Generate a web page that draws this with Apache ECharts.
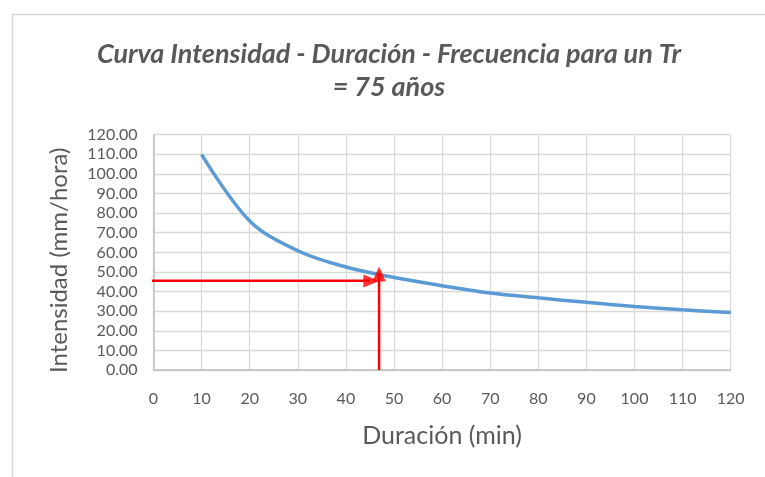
<!DOCTYPE html>
<html>
<head>
<meta charset="utf-8">
<script src="https://cdn.jsdelivr.net/npm/echarts@6/dist/echarts.min.js"></script>
<style>html,body{margin:0;padding:0;background:#fff}#c{width:765px;height:477px}</style>
</head>
<body>
<div id="c"></div>
<script>
// Curve data
const durations = [10, 20, 30, 40, 50, 60, 70, 80, 90, 100, 110, 120];
const intensities = [110.0, 76.0, 60.8, 52.5, 47.2, 43.0, 39.3, 36.8, 34.5, 32.4, 30.7, 29.3];
// Red design-point arrows
const hArrowX = [-0.7, 45.0];
const hArrowY = [45.5, 45.5];
const hArrowHead = [45.3, 45.4];
const vArrowX = [46.9, 46.9];
const vArrowY = [0, 49.5];
const vArrowHead = [46.9, 48.9];
// Axis settings
const xTicks = {min: 0, max: 120, interval: 10};
const yTicks = {min: 0, max: 120, interval: 10};

const gray = '#595959';
const font = 'Lato, "Open Sans", sans-serif';

const chart = echarts.init(document.getElementById('c'), null, {renderer: 'canvas'});
chart.setOption({
  animation: false,
  backgroundColor: '#fff',
  graphic: [{
    type: 'rect', left: 10, top: 12, silent: true,
    shape: {width: 800, height: 520},
    style: {fill: 'none', stroke: '#d9d9d9', lineWidth: 1.5}
  }],
  title: {
    text: 'Curva Intensidad - Duración - Frecuencia para un Tr\n= 75 años',
    left: 384, top: 33, textAlign: 'center',
    textStyle: {fontFamily: font, fontSize: 27, fontWeight: 'bold', fontStyle: 'italic', color: gray, lineHeight: 33}
  },
  grid: {left: 153.5, right: 34.3, top: 134.7, bottom: 107},
  xAxis: {
    type: 'value', min: xTicks.min, max: xTicks.max, interval: xTicks.interval,
    name: 'Duración (min)', nameLocation: 'middle', nameGap: 53,
    nameTextStyle: {fontFamily: font, fontSize: 25, color: gray},
    axisLine: {show: true, lineStyle: {color: '#bfbfbf', width: 1.5}},
    axisTick: {show: false},
    axisLabel: {fontFamily: font, fontSize: 16, color: gray, margin: 21},
    splitLine: {show: true, lineStyle: {color: '#d9d9d9', width: 1.3}}
  },
  yAxis: {
    type: 'value', min: yTicks.min, max: yTicks.max, interval: yTicks.interval,
    name: 'Intensidad (mm/hora)', nameLocation: 'middle', nameGap: 82,
    nameTextStyle: {fontFamily: font, fontSize: 24, color: gray, padding: [0, 16, 0, 0]},
    axisLine: {show: true, lineStyle: {color: '#bfbfbf', width: 1.5}},
    axisTick: {show: false},
    axisLabel: {fontFamily: font, fontSize: 16, color: gray, margin: 16,
      formatter: v => v.toFixed(2)},
    splitLine: {show: true, lineStyle: {color: '#d9d9d9', width: 1.3}}
  },
  series: [
    {
      type: 'line', smooth: 0.35, showSymbol: false, symbol: 'none',
      data: durations.map((d, i) => [d, intensities[i]]),
      lineStyle: {color: '#5b9bd5', width: 3.5}, z: 3
    },
    {
      type: 'line', showSymbol: false, symbol: 'none', clip: false,
      data: hArrowX.map((x, i) => [x, hArrowY[i]]),
      lineStyle: {color: '#ff0000', width: 2.5}, z: 4
    },
    {
      type: 'line', showSymbol: false, symbol: 'none', clip: false,
      data: vArrowX.map((x, i) => [x, vArrowY[i]]),
      lineStyle: {color: '#ff0000', width: 2.5}, z: 4
    },
    {
      type: 'scatter', symbol: 'triangle', symbolSize: [13, 16], symbolRotate: -90,
      data: [hArrowHead], itemStyle: {color: '#ff0000'}, z: 5, silent: true
    },
    {
      type: 'scatter', symbol: 'triangle', symbolSize: [13.5, 15], symbolRotate: 0,
      data: [vArrowHead], itemStyle: {color: '#ff0000'}, z: 5, silent: true
    }
  ]
});
</script>
</body>
</html>
